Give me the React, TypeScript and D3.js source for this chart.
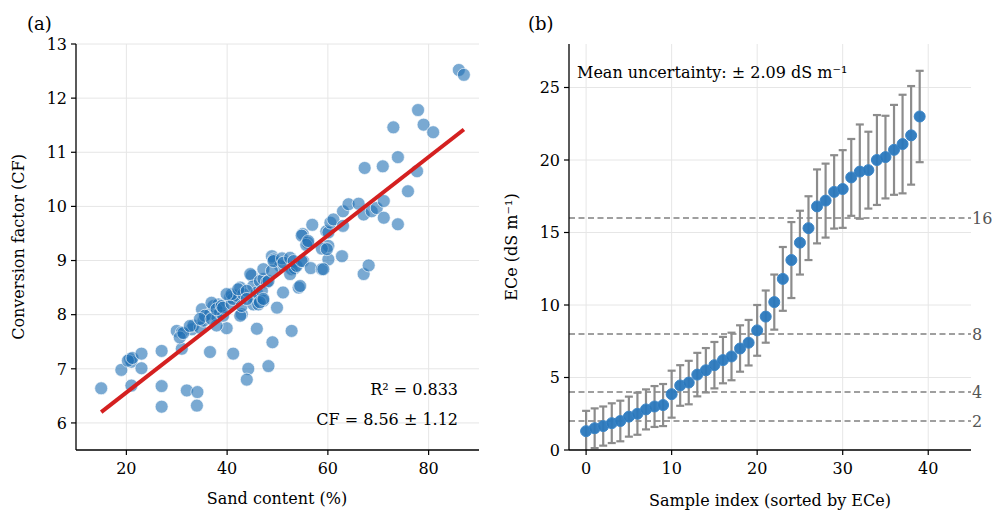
import React from "react";
import * as d3 from "d3";

// Panel (a): sand content (%) vs conversion factor
const sandContent: number[] = [
  15.0, 19.0, 20.7, 21.0, 20.3, 21.2, 21.0, 23.0, 23.0, 27.0, 27.0, 27.0, 31.0,
  32.0, 34.1, 34.0, 36.6, 41.2, 44.2, 43.9, 48.2, 49.0, 45.9, 52.8, 39.9,
  30.0, 31.0, 30.6, 33.0, 33.3, 34.6, 31.3, 32.6,
  35.0, 35.3, 36.6, 37.3, 38.3, 37.9, 37.9, 36.9, 35.6, 34.6, 36.9, 38.6, 39.2, 37.9, 38.9,
  39.2, 40.6, 40.9, 41.2, 41.9, 40.9, 39.9,
  42.6, 43.2, 42.9, 42.6, 42.9, 42.2,
  44.9, 45.2, 45.9, 45.6, 45.2, 43.9, 44.6, 43.9, 46.2,
  46.5, 47.2, 47.9, 46.9, 47.2, 46.5, 47.2, 48.2, 47.2,
  48.9, 49.3, 50.5, 48.9, 49.2, 50.9, 51.2,
  52.5, 53.2, 52.8, 53.4, 52.5, 53.8,
  55.1, 54.8, 56.6, 58.8, 60.1, 62.8, 59.1, 67.1, 68.1,
  54.2, 54.5, 51.1, 49.9,
  55.0, 54.8, 56.0, 55.7, 56.1,
  56.9, 59.7, 60.1, 58.8, 59.8,
  60.1, 60.5, 61.1, 63.0,
  63.0, 64.1, 66.1,
  67.1, 68.7, 69.7, 71.1, 71.1,
  67.3, 70.9, 73.9, 75.9, 73.9, 77.7,
  73.0, 77.9, 79.0, 80.9,
  86.0, 87.0,
];
const conversionFactor: number[] = [
  6.64, 6.98, 7.18, 7.13, 7.15, 7.2, 6.69, 7.28, 7.01, 7.33, 6.68, 6.3, 7.37,
  6.6, 6.57, 6.32, 7.31, 7.28, 7.0, 6.8, 7.05, 7.49, 7.74, 7.7, 7.75,
  7.7, 7.67, 7.58, 7.73, 7.8, 7.76, 7.66, 7.79,
  8.1, 7.89, 8.01, 8.16, 8.19, 7.98, 7.8, 8.22, 7.98, 7.92, 7.92, 8.04, 7.98, 8.1, 8.16,
  8.13, 8.32, 8.2, 8.29, 8.35, 8.38, 8.38,
  8.5, 8.38, 8.01, 7.98, 8.16, 8.47,
  8.72, 8.53, 8.41, 8.29, 8.19, 8.44, 8.75, 8.29, 8.19,
  8.62, 8.66, 8.6, 8.44, 8.26, 8.23, 8.84, 8.62, 8.29,
  9.08, 9.02, 8.9, 8.81, 8.99, 9.04, 8.96,
  9.05, 8.99, 8.84, 8.86, 8.75, 8.9,
  8.99, 8.99, 8.86, 8.84, 9.02, 9.08, 8.84, 8.75, 8.91,
  8.5, 8.53, 8.41, 8.13,
  9.49, 9.46, 9.33, 9.29, 9.36,
  9.66, 9.54, 9.27, 9.22, 9.21,
  9.52, 9.7, 9.76, 9.64,
  9.91, 10.04, 10.05,
  9.85, 9.91, 9.97, 10.1, 9.79,
  10.71, 10.74, 9.67, 10.28, 10.91, 10.65,
  11.46, 11.78, 11.51, 11.37,
  12.52, 12.43,
];
const fitSlope = 0.0725;
const fitIntercept = 5.1125;
const sandTicks = [20, 40, 60, 80];
const cfTicks = [6, 7, 8, 9, 10, 11, 12, 13];

// Panel (b): sorted ECe with uncertainty
const eceValues: number[] = [
  1.3, 1.5, 1.65, 1.85, 2.0, 2.3, 2.5, 2.8, 3.0, 3.1,
  3.85, 4.45, 4.65, 5.2, 5.5, 5.85, 6.2, 6.45, 7.0, 7.4,
  8.25, 9.2, 10.2, 11.8, 13.1, 14.3, 15.3, 16.8, 17.2, 17.8,
  18.0, 18.8, 19.2, 19.3, 20.0, 20.2, 20.7, 21.1, 21.7, 23.0,
];
const eceErrors: number[] = [
  1.4, 1.37, 1.35, 1.37, 1.4, 1.38, 1.45, 1.38, 1.41, 1.45,
  1.62, 1.4, 1.5, 1.5, 1.53, 1.6, 1.6, 1.64, 1.6, 1.57,
  1.75, 1.8, 1.9, 2.2, 2.62, 2.2, 2.2, 2.55, 2.55, 2.53,
  2.68, 2.65, 3.25, 2.65, 3.1, 2.85, 3.1, 3.4, 3.4, 3.15,
];
const thresholds = [2, 4, 8, 16];
const indexTicks = [0, 10, 20, 30, 40];
const eceTicks = [0, 5, 10, 15, 20, 25];

const FONT = "'DejaVu Serif', 'Liberation Serif', serif";
const GRID = "#e6e6e6";

export default function App() {
  // Panel (a) scales
  const xa = d3.scaleLinear().domain([10, 90]).range([76, 479]);
  const ya = d3.scaleLinear().domain([5.5, 13]).range([450, 44]);
  // Panel (b) scales
  const xb = d3.scaleLinear().domain([-2, 45]).range([569, 971]);
  const yb = d3.scaleLinear().domain([0, 28]).range([450, 44]);

  const pts = sandContent.map((s, i) => ({ s, cf: conversionFactor[i] }));
  const xMin = d3.min(sandContent) as number;
  const xMax = d3.max(sandContent) as number;
  const fitLine = d3.line<number>()
    .x((d) => xa(d))
    .y((d) => ya(fitIntercept + fitSlope * d))([xMin, xMax]) as string;

  const fs = 16;

  return (
    <svg width={992} height={513} style={{ position: "absolute", left: 0, top: 0, background: "#fff" }}
      fontFamily={FONT}>
      <defs>
        <clipPath id="clipb">
          <rect x={569} y={44} width={402} height={406} />
        </clipPath>
      </defs>

      {/* ---------- Panel (a) ---------- */}
      <text x={27} y={30} fontSize={18} fill="#000">(a)</text>
      {sandTicks.map((t) => (
        <line key={"ga" + t} x1={xa(t)} x2={xa(t)} y1={44} y2={450} stroke={GRID} strokeWidth={1} />
      ))}
      {cfTicks.map((t) => (
        <line key={"gay" + t} x1={76} x2={479} y1={ya(t)} y2={ya(t)} stroke={GRID} strokeWidth={1} />
      ))}
      {pts.map((p, i) => (
        <circle key={"p" + i} cx={xa(p.s)} cy={ya(p.cf)} r={6.5}
          fill="#1f6fb4" fillOpacity={0.6} stroke="#ffffff" strokeOpacity={0.8} strokeWidth={0.8} />
      ))}
      <path d={fitLine} stroke="#d42020" strokeWidth={4} fill="none" />
      <text x={458} y={395} fontSize={fs} textAnchor="end">R² = 0.833</text>
      <text x={458} y={425} fontSize={fs} textAnchor="end">CF = 8.56 ± 1.12</text>
      {/* axes */}
      <line x1={76} x2={76} y1={44} y2={450} stroke="#000" strokeWidth={1.3} />
      <line x1={76} x2={479} y1={450} y2={450} stroke="#000" strokeWidth={1.3} />
      {sandTicks.map((t) => (
        <g key={"xta" + t}>
          <line x1={xa(t)} x2={xa(t)} y1={450} y2={455} stroke="#000" strokeWidth={1.2} />
          <text x={xa(t)} y={474} fontSize={fs} textAnchor="middle">{t}</text>
        </g>
      ))}
      {cfTicks.map((t) => (
        <g key={"yta" + t}>
          <line x1={71} x2={76} y1={ya(t)} y2={ya(t)} stroke="#000" strokeWidth={1.2} />
          <text x={67} y={ya(t)} dy="0.36em" fontSize={fs} textAnchor="end">{t}</text>
        </g>
      ))}
      <text x={277} y={504} fontSize={fs} textAnchor="middle">Sand content (%)</text>
      <text transform="translate(24,247) rotate(-90)" fontSize={fs} textAnchor="middle">Conversion factor (CF)</text>

      {/* ---------- Panel (b) ---------- */}
      <text x={528} y={30} fontSize={18} fill="#000">(b)</text>
      {indexTicks.map((t) => (
        <line key={"gb" + t} x1={xb(t)} x2={xb(t)} y1={44} y2={450} stroke={GRID} strokeWidth={1} />
      ))}
      {eceTicks.map((t) => (
        <line key={"gby" + t} x1={569} x2={971} y1={yb(t)} y2={yb(t)} stroke={GRID} strokeWidth={1} />
      ))}
      {thresholds.map((t) => (
        <g key={"th" + t}>
          <line x1={569} x2={971} y1={yb(t)} y2={yb(t)} stroke="#808080" strokeWidth={1.5} strokeDasharray="6,3.5" />
          <text x={972} y={yb(t)} dy="0.36em" fontSize={fs} fill="#555">{t}</text>
        </g>
      ))}
      <g clipPath="url(#clipb)">
        {eceValues.map((v, i) => {
          const e = eceErrors[i];
          const x = xb(i);
          return (
            <g key={"eb" + i} stroke="#8c8c8c" strokeWidth={2.2}>
              <line x1={x} x2={x} y1={yb(v - e)} y2={yb(v + e)} />
              <line x1={x - 4} x2={x + 4} y1={yb(v + e)} y2={yb(v + e)} />
              <line x1={x - 4} x2={x + 4} y1={yb(v - e)} y2={yb(v - e)} />
            </g>
          );
        })}
        {eceValues.map((v, i) => (
          <circle key={"c" + i} cx={xb(i)} cy={yb(v)} r={5.5} fill="#2a78bd" fillOpacity={0.95}
            stroke="#3b86c8" strokeWidth={1} />
        ))}
      </g>
      <text x={577} y={78} fontSize={fs}>Mean uncertainty: ± 2.09 dS m⁻¹</text>
      <line x1={569} x2={569} y1={44} y2={450} stroke="#000" strokeWidth={1.3} />
      <line x1={569} x2={971} y1={450} y2={450} stroke="#000" strokeWidth={1.3} />
      {indexTicks.map((t) => (
        <g key={"xtb" + t}>
          <line x1={xb(t)} x2={xb(t)} y1={450} y2={455} stroke="#000" strokeWidth={1.2} />
          <text x={xb(t)} y={474} fontSize={fs} textAnchor="middle">{t}</text>
        </g>
      ))}
      {eceTicks.map((t) => (
        <g key={"ytb" + t}>
          <line x1={564} x2={569} y1={yb(t)} y2={yb(t)} stroke="#000" strokeWidth={1.2} />
          <text x={560} y={yb(t)} dy="0.36em" fontSize={fs} textAnchor="end">{t}</text>
        </g>
      ))}
      <text x={770} y={506} fontSize={fs} textAnchor="middle">Sample index (sorted by ECe)</text>
      <text transform="translate(517,247) rotate(-90)" fontSize={fs} textAnchor="middle">ECe (dS m⁻¹)</text>
    </svg>
  );
}
